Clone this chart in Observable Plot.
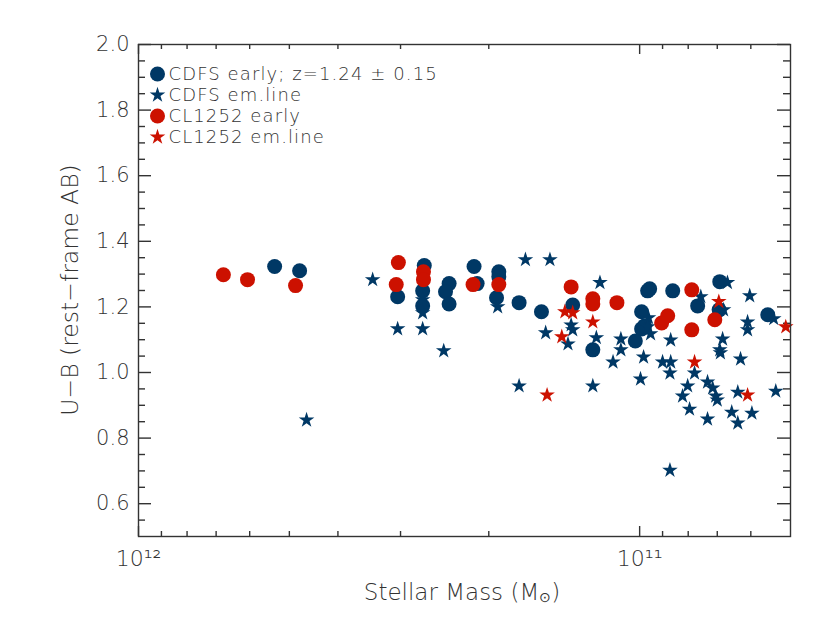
<!DOCTYPE html>
<html>
<head>
<meta charset="utf-8">
<script src="https://cdn.jsdelivr.net/npm/d3@7"></script>
<script src="https://cdn.jsdelivr.net/npm/@observablehq/plot@0.6"></script>
<style>
  html, body { margin: 0; padding: 0; background: #fff; }
  #chart { width: 830px; height: 624px; }
  svg text { font-family: "DejaVu Sans", sans-serif; font-weight: 200; }
</style>
</head>
<body>
<div id="chart"></div>
<script>
// ---- data (stellar mass in solar masses, U-B rest-frame AB) ----
const cdfsEarlyMass = [5.35e11, 4.77e11, 3.04e11, 2.69e11, 2.71e11, 2.71e11, 2.40e11, 2.44e11, 2.40e11, 2.14e11, 2.11e11, 1.91e11, 1.91e11, 1.93e11, 1.74e11, 1.57e11, 1.36e11, 1.24e11, 9.91e10, 9.91e10, 1.02e11, 9.64e10, 9.55e10, 9.78e10, 8.59e10, 7.66e10, 6.92e10, 6.94e10, 5.55e10];
const cdfsEarlyUB   = [1.323, 1.310, 1.231, 1.326, 1.249, 1.203, 1.271, 1.246, 1.209, 1.323, 1.271, 1.307, 1.292, 1.228, 1.213, 1.185, 1.206, 1.069, 1.185, 1.133, 1.096, 1.249, 1.255, 1.142, 1.249, 1.203, 1.277, 1.191, 1.176];

const cdfsEmMass = [4.62e11, 3.41e11, 3.04e11, 2.71e11, 2.71e11, 2.71e11, 2.46e11, 1.92e11, 1.69e11, 1.51e11, 1.20e11, 1.54e11, 1.37e11, 1.36e11, 1.39e11, 1.22e11, 1.09e11, 1.09e11, 1.13e11, 9.82e10, 9.96e10, 1.74e11, 1.24e11, 9.60e10, 9.64e10, 9.51e10, 9.00e10, 8.67e10, 8.70e10, 8.67e10, 6.68e10, 7.55e10, 6.03e10, 6.80e10, 6.09e10, 6.09e10, 6.83e10, 6.92e10, 6.90e10, 6.29e10, 7.77e10, 8.02e10, 7.32e10, 7.15e10, 8.21e10, 7.05e10, 7.00e10, 6.37e10, 5.35e10, 7.95e10, 7.32e10, 6.55e10, 5.97e10, 6.37e10, 8.70e10, 5.40e10];
const cdfsEmUB   = [0.855, 1.283, 1.133, 1.133, 1.222, 1.182, 1.066, 1.200, 1.344, 1.344, 1.274, 1.121, 1.145, 1.130, 1.087, 1.106, 1.102, 1.069, 1.032, 1.047, 0.980, 0.959, 0.959, 1.167, 1.139, 1.118, 1.032, 1.032, 0.998, 1.099, 1.274, 1.231, 1.234, 1.191, 1.154, 1.130, 1.102, 1.069, 1.060, 1.041, 0.998, 0.959, 0.971, 0.953, 0.928, 0.928, 0.916, 0.940, 0.943, 0.888, 0.858, 0.879, 0.876, 0.846, 0.702, 1.164];

const clEarlyMass = [6.77e11, 6.06e11, 4.86e11, 3.03e11, 3.06e11, 2.70e11, 2.70e11, 2.15e11, 1.91e11, 1.37e11, 1.24e11, 1.24e11, 1.11e11, 9.04e10, 8.79e10, 7.87e10, 7.87e10, 7.08e10];
const clEarlyUB   = [1.298, 1.283, 1.265, 1.335, 1.268, 1.307, 1.283, 1.268, 1.268, 1.261, 1.225, 1.209, 1.213, 1.151, 1.173, 1.252, 1.130, 1.161];

const clEmMass = [1.41e11, 1.36e11, 1.24e11, 1.43e11, 1.53e11, 7.77e10, 6.95e10, 6.09e10, 5.11e10];
const clEmUB   = [1.185, 1.182, 1.154, 1.109, 0.931, 1.032, 1.216, 0.931, 1.139];

const seriesNames = ["CDFS early; z=1.24 \u00b1 0.15", "CDFS em.line", "CL1252 early", "CL1252 em.line"];
const seriesSymbols = ["circle", "star", "circle", "star"];
const seriesColors = ["#003865", "#003865", "#cc1100", "#cc1100"];

const xDomain = [1e12, 5e10];
const yDomain = [0.5, 2.0];
const xMajorTicks = [1e12, 1e11];
const xMajorLabels = ["10\u00b9\u00b2", "10\u00b9\u00b9"];
const xMinorTicks = [9e11, 8e11, 7e11, 6e11, 5e11, 4e11, 3e11, 2e11, 9e10, 8e10, 7e10, 6e10];
const yMajorTicks = [0.6, 0.8, 1.0, 1.2, 1.4, 1.6, 1.8, 2.0];
const yMinorTicks = [0.55, 0.65, 0.7, 0.75, 0.85, 0.9, 0.95, 1.05, 1.1, 1.15, 1.25, 1.3, 1.35, 1.45, 1.5, 1.55, 1.65, 1.7, 1.75, 1.85, 1.9, 1.95];
const xTitle = "Stellar Mass (M";
const xTitleSub = "\u2299";
const yTitle = "U\u2212B (rest\u2212frame AB)";

// ---- build ----
const W = 830, H = 624;
const mL = 138, mR = 40, mT = 44, mB = 88;
const pw = W - mL - mR, ph = H - mT - mB;
const zip = (xs, ys) => xs.map((x, i) => ({mass: x, ub: ys[i]}));
const sets = [zip(cdfsEarlyMass, cdfsEarlyUB), zip(cdfsEmMass, cdfsEmUB), zip(clEarlyMass, clEarlyUB), zip(clEmMass, clEmUB)];
const axisColor = "#333";
const textColor = "#333";
const fs = 21;

const marks = [];
// tick marks (inward, all four sides)
marks.push(Plot.tickX(xMajorTicks, {x: d => d, insetTop: ph - 10, stroke: axisColor, strokeWidth: 1.4}));
marks.push(Plot.tickX(xMinorTicks, {x: d => d, insetTop: ph - 5, stroke: axisColor, strokeWidth: 1.4}));
marks.push(Plot.tickX(xMajorTicks, {x: d => d, insetBottom: ph - 10, stroke: axisColor, strokeWidth: 1.4}));
marks.push(Plot.tickX(xMinorTicks, {x: d => d, insetBottom: ph - 5, stroke: axisColor, strokeWidth: 1.4}));
marks.push(Plot.tickY(yMajorTicks, {y: d => d, insetRight: pw - 13, stroke: axisColor, strokeWidth: 1.4}));
marks.push(Plot.tickY(yMinorTicks, {y: d => d, insetRight: pw - 7, stroke: axisColor, strokeWidth: 1.4}));
marks.push(Plot.tickY(yMajorTicks, {y: d => d, insetLeft: pw - 13, stroke: axisColor, strokeWidth: 1.4}));
marks.push(Plot.tickY(yMinorTicks, {y: d => d, insetLeft: pw - 7, stroke: axisColor, strokeWidth: 1.4}));
// axis labels
marks.push(Plot.axisY({ticks: yMajorTicks, tickSize: 0, tickPadding: 9, tickFormat: d3.format(".1f"), fontSize: fs, label: null, color: textColor}));
marks.push(Plot.axisX({ticks: xMajorTicks, tickSize: 0, tickPadding: 14, tickFormat: (d) => xMajorLabels[xMajorTicks.indexOf(d)], fontSize: fs + 1, label: null, color: textColor}));
// data
sets.forEach((data, i) => {
  marks.push(Plot.dot(data, {x: "mass", y: "ub", symbol: seriesSymbols[i], fill: seriesColors[i],
    r: seriesSymbols[i] === "circle" ? 7.5 : 4.9, stroke: "none"}));
});
marks.push(Plot.frame({stroke: axisColor, strokeWidth: 1.4}));
// legend
const legendDy = [29.5, 50.5, 71.5, 92.5];
seriesNames.forEach((name, i) => {
  marks.push(Plot.dot([name], {frameAnchor: "top-left", dx: 19, dy: legendDy[i], symbol: seriesSymbols[i], fill: seriesColors[i],
    r: seriesSymbols[i] === "circle" ? 7.5 : 4.9, stroke: "none"}));
  marks.push(Plot.text([name], {frameAnchor: "top-left", dx: 30, dy: legendDy[i], text: d => d, textAnchor: "start", lineAnchor: "middle", fontSize: 18, fill: textColor, style: "letter-spacing: 1.1px"}));
});

const chart = Plot.plot({
  width: W, height: H,
  marginLeft: mL, marginRight: mR, marginTop: mT, marginBottom: mB,
  style: {fontFamily: "DejaVu Sans, sans-serif", background: "#fff"},
  x: {type: "log", domain: xDomain, axis: null},
  y: {type: "linear", domain: yDomain, axis: null},
  symbol: {type: "identity"},
  marks
});
document.getElementById("chart").appendChild(chart);
// widen legend letter spacing to match the reference's typeface
d3.select(chart).selectAll("g[aria-label='text'] text").style("letter-spacing", "1.1px");

// axis titles
const svg = d3.select(chart);
svg.append("text")
  .attr("transform", `translate(70,${mT + ph / 2}) rotate(-90)`)
  .attr("text-anchor", "middle").attr("dominant-baseline", "central")
  .attr("font-size", 23.5).attr("fill", textColor)
  .text(yTitle);
const xt = svg.append("text")
  .attr("x", mL + pw / 2 - 2).attr("y", 592)
  .attr("text-anchor", "middle").attr("dominant-baseline", "central")
  .attr("font-size", 23).attr("fill", textColor);
xt.append("tspan").text(xTitle);
xt.append("tspan").attr("font-size", 14).attr("dy", 5).text(xTitleSub);
xt.append("tspan").attr("dy", -5).text(")");
</script>
</body>
</html>
